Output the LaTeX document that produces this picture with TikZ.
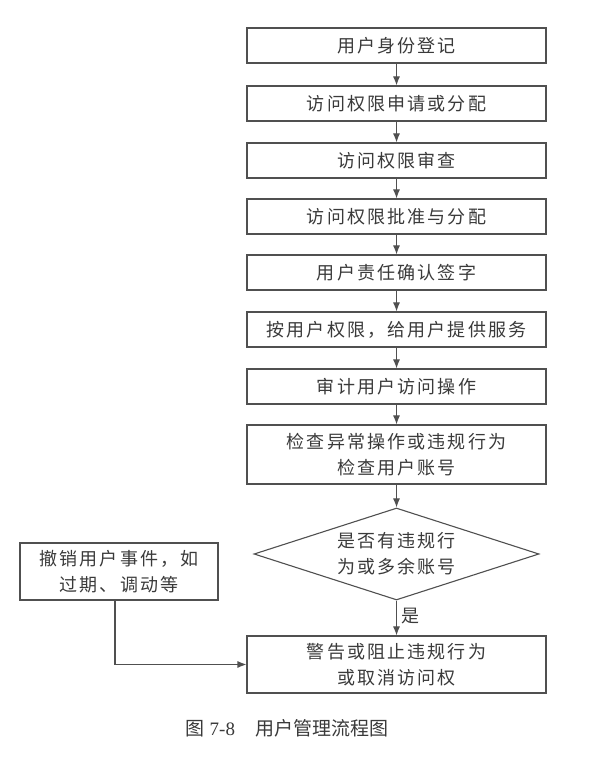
\documentclass[tikz,border=0pt]{standalone}
\usepackage{fontspec}
\setmainfont{Liberation Serif}
\newfontfamily\cjk[LetterSpace=12]{Noto Sans CJK SC}
\newfontfamily\cjkcap{Noto Sans CJK SC}
\usetikzlibrary{shapes.geometric,arrows.meta}
\definecolor{linec}{HTML}{505050}
\definecolor{textc}{HTML}{3A3A3A}
\begin{document}
\begin{tikzpicture}[x=1pt,y=1pt,
  box/.style={draw=linec,line width=1.1pt,minimum width=299pt,minimum height=35pt,inner sep=0pt,
    font=\cjk\fontsize{18}{26}\selectfont,text=textc,align=center},
  dia/.style={draw=linec,line width=1.1pt,shape=diamond,aspect=3.1,minimum width=285pt,minimum height=92pt,inner sep=0pt,
    font=\cjk\fontsize{18}{26}\selectfont,text=textc,align=center},
  arr/.style={draw=linec,line width=1.1pt,-{Latex[length=9pt,width=7pt]}},
  lbl/.style={font=\cjk\fontsize{18}{22}\selectfont,text=textc}]
\useasboundingbox (0,0) rectangle (602,760);
\fill[white] (0,0) rectangle (602,760);
\node[box] (b1) at (396.5,714.5) {用户身份登记};
\node[box] (b2) at (396.5,656.5) {访问权限申请或分配};
\node[box] (b3) at (396.5,599.5) {访问权限审查};
\node[box] (b4) at (396.5,543.5) {访问权限批准与分配};
\node[box] (b5) at (396.5,487.5) {用户责任确认签字};
\node[box] (b6) at (396.5,430.5) {按用户权限，给用户提供服务};
\node[box] (b7) at (396.5,373.5) {审计用户访问操作};
\node[box,minimum height=59pt] (b8) at (396.5,305.5) {检查异常操作或违规行为\\检查用户账号};
\node[dia] (d) at (396.5,206) {是否有违规行\\为或多余账号};
\node[box,minimum height=57pt] (f) at (396.5,95.5) {警告或阻止违规行为\\或取消访问权};
\node[box,minimum width=198pt,minimum height=57pt] (l) at (119,188.5) {撤销用户事件，如\\过期、调动等};
\draw[arr] (b1.south) -- (b2.north);
\draw[arr] (b2.south) -- (b3.north);
\draw[arr] (b3.south) -- (b4.north);
\draw[arr] (b4.south) -- (b5.north);
\draw[arr] (b5.south) -- (b6.north);
\draw[arr] (b6.south) -- (b7.north);
\draw[arr] (b7.south) -- (b8.north);
\draw[arr] (b8.south) -- (d.north);
\draw[arr] (d.south) -- node[lbl,right,pos=0.45,xshift=1pt] (yes) {是} (f.north);
\coordinate (lb) at ([xshift=-4pt]l.south);
\draw[arr] (lb) |- (f.west);
\node[text=textc,font=\fontsize{19}{22}\selectfont,anchor=base] (cap) at (287,24) {{\cjkcap 图} 7-8\hspace{20pt}{\cjkcap 用户管理流程图}};
\end{tikzpicture}
\end{document}
